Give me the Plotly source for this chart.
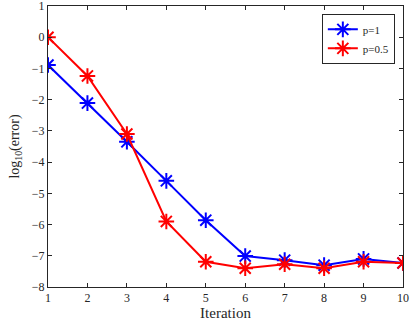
import plotly.graph_objects as go

iterations = [1, 2, 3, 4, 5, 6, 7, 8, 9, 10]
err_p1 = [-0.89, -2.11, -3.35, -4.6, -5.86, -7.01, -7.14, -7.3, -7.1, -7.23]
err_p05 = [0.0, -1.24, -3.1, -5.9, -7.19, -7.4, -7.27, -7.4, -7.19, -7.23]
y_ticks = [-8, -7, -6, -5, -4, -3, -2, -1, 0, 1]

font = "Liberation Serif, Times New Roman, serif"

fig = go.Figure()
fig.add_trace(go.Scatter(x=iterations, y=err_p1, name="p=1", mode="lines+markers",
                         line=dict(color="#0000ff", width=2),
                         marker=dict(symbol="asterisk-open", size=13,
                                     line=dict(color="#0000ff", width=2))))
fig.add_trace(go.Scatter(x=iterations, y=err_p05, name="p=0.5", mode="lines+markers",
                         line=dict(color="#ff0000", width=2),
                         marker=dict(symbol="asterisk-open", size=13,
                                     line=dict(color="#ff0000", width=2))))

axis = dict(showgrid=False, zeroline=False, showline=True, linecolor="#262626", linewidth=1,
            mirror="ticks", ticks="inside", ticklen=4, tickcolor="#262626",
            ticklabeloverflow="allow",
            tickfont=dict(family=font, size=12, color="#262626"))

fig.update_layout(
    width=419, height=330,
    margin=dict(l=48, r=16, t=6, b=43, autoexpand=False),
    plot_bgcolor="white", paper_bgcolor="white",
    font=dict(family=font, color="#262626"),
    xaxis=dict(axis, range=[1, 10], dtick=1,
               title=dict(text="Iteration", font=dict(family=font, size=15), standoff=2)),
    yaxis=dict(axis, range=[-8, 1], tickmode="array", tickvals=y_ticks,
               title=dict(text="log<sub>10</sub>(error)", font=dict(family=font, size=14), standoff=8)),
    legend=dict(x=0.977, y=0.972, xanchor="right", yanchor="top",
                bordercolor="#262626", borderwidth=1, bgcolor="white",
                font=dict(family=font, size=11), tracegroupgap=0,
                itemwidth=30),
    showlegend=True,
)

fig.write_html("out.html", config={"displayModeBar": False},
               post_script="document.body.style.margin='0';")
